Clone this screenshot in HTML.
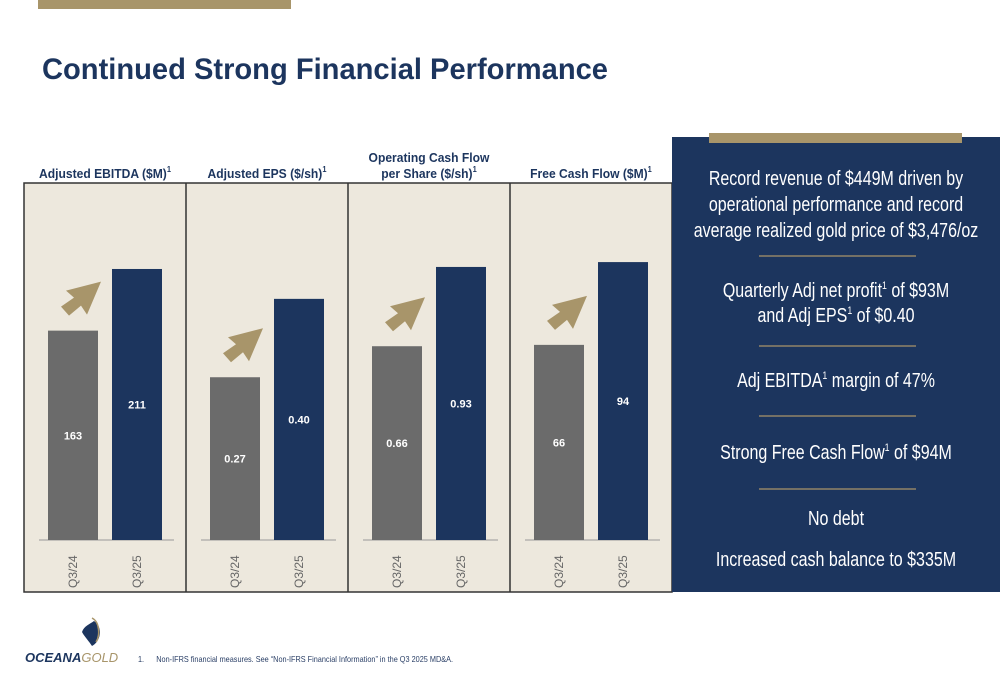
<!DOCTYPE html>
<html><head><meta charset="utf-8"><style>
html,body{margin:0;padding:0;background:#fff;}
svg{display:block;font-family:"Liberation Sans",Arial,sans-serif;}
.rt{font-family:"Liberation Sans Narrow","Liberation Sans",sans-serif;font-size:20px;fill:#fff;text-anchor:middle;}
</style></head><body>
<svg id="chart" width="1000" height="685" viewBox="0 0 1000 685" xmlns="http://www.w3.org/2000/svg">
<rect x="38" y="0" width="253" height="9" fill="#a8956a"/>
<text x="42" y="79" font-size="30" font-weight="bold" fill="#1c355e" textLength="566" lengthAdjust="spacingAndGlyphs">Continued Strong Financial Performance</text>
<rect x="24" y="183" width="648" height="409" fill="#ede8dd" stroke="#333" stroke-width="1.5"/>
<g id="charts"></g>
<rect x="672" y="137" width="328" height="455" fill="#1c355e"/>
<rect x="709" y="133" width="253" height="10" fill="#a8956a"/>
<g transform="translate(836,0) scale(0.8,1)">
<text class="rt" x="0" y="185">Record revenue of $449M driven by</text>
<text class="rt" x="0" y="211">operational performance and record</text>
<text class="rt" x="0" y="237">average realized gold price of $3,476/oz</text>
<text class="rt" x="0" y="297">Quarterly Adj net profit<tspan font-size="11" dy="-8">1</tspan><tspan dy="8"> of $93M</tspan></text>
<text class="rt" x="0" y="322">and Adj EPS<tspan font-size="11" dy="-8">1</tspan><tspan dy="8"> of $0.40</tspan></text>
<text class="rt" x="0" y="387">Adj EBITDA<tspan font-size="11" dy="-8">1</tspan><tspan dy="8"> margin of 47%</tspan></text>
<text class="rt" x="0" y="459">Strong Free Cash Flow<tspan font-size="11" dy="-8">1</tspan><tspan dy="8"> of $94M</tspan></text>
<text class="rt" x="0" y="525">No debt</text>
<text class="rt" x="0" y="566">Increased cash balance to $335M</text>
</g>
<line x1="759" y1="256" x2="916" y2="256" stroke="#a8956a" stroke-width="1.2"/>
<line x1="759" y1="346" x2="916" y2="346" stroke="#a8956a" stroke-width="1.2"/>
<line x1="759" y1="416" x2="916" y2="416" stroke="#a8956a" stroke-width="1.2"/>
<line x1="759" y1="489" x2="916" y2="489" stroke="#a8956a" stroke-width="1.2"/>
<g>
<path d="M94 621 C104 628 100 642 92 646 C88 640 84 636 82 632 C84 626 90 624 94 621 Z" fill="#1c355e"/>
<path d="M92 618 C100 622 100 636 96 642" stroke="#a8956a" stroke-width="1.5" fill="none"/>
<text x="25" y="662" font-size="13" font-weight="bold" font-style="italic" fill="#1c355e">OCEANA<tspan fill="#a8956a" font-weight="normal">GOLD</tspan></text>
</g>
<text x="138" y="662" font-size="8.5" fill="#2a3f66" textLength="315" lengthAdjust="spacingAndGlyphs">1.&#160;&#160;&#160;&#160;&#160;&#160;Non-IFRS financial measures. See “Non-IFRS Financial Information” in the Q3 2025 MD&amp;A.</text>
</svg>
<script>
const titles1 = ["Adjusted EBITDA ($M)", "Adjusted EPS ($/sh)", "Operating Cash Flow", "Free Cash Flow ($M)"];
const titles2 = ["", "", "per Share ($/sh)", ""];
const categories = ["Q3/24", "Q3/25"];
const priorValues = [163, 0.27, 0.66, 66];
const currentValues = [211, 0.40, 0.93, 94];
const priorLabels = ["163", "0.27", "0.66", "66"];
const currentLabels = ["211", "0.40", "0.93", "94"];
const axisMax = [264.7, 0.564, 1.158, 115];

const NS = "http://www.w3.org/2000/svg";
const g = document.getElementById("charts");
function mk(tag, attrs, parent) {
  const e = document.createElementNS(NS, tag);
  for (const k in attrs) e.setAttribute(k, attrs[k]);
  (parent || g).appendChild(e);
  return e;
}
const panelX = [24, 186, 348, 510];
const panelW = 162;
const baseY = 540, plotH = 340;
function yScale(i, v) { return baseY - v / axisMax[i] * plotH; }

for (let i = 0; i < 4; i++) {
  const px = panelX[i];
  const cx = px + panelW / 2;
  if (i > 0) {
    const d = mk("line", {x1: px, y1: 183, x2: px, y2: 592, stroke: "#333", "stroke-width": 1.5});
    
    
  }
  const t = mk("text", {x: cx, y: titles2[i] ? 162 : 178, "font-size": 13, "font-weight": "bold", fill: "#1c355e", "text-anchor": "middle", transform: `translate(${cx * 0.07},0) scale(0.93,1)`});
  t.textContent = titles1[i];
  if (!titles2[i]) { const s = mk("tspan", {"font-size": 8, dy: -6}, t); s.textContent = "1"; }
  
  
  if (titles2[i]) {
    const t2 = mk("text", {x: cx, y: 178, "font-size": 13, "font-weight": "bold", fill: "#1c355e", "text-anchor": "middle", transform: `translate(${cx * 0.07},0) scale(0.93,1)`});
    t2.textContent = titles2[i];
    const s = mk("tspan", {"font-size": 8, dy: -6}, t2); s.textContent = "1";
    
    
  }
  const bl = mk("line", {x1: px + 15, y1: baseY, x2: px + 150, y2: baseY, stroke: "#999", "stroke-width": 1});
  
  
  const vals = [priorValues[i], currentValues[i]];
  const labs = [priorLabels[i], currentLabels[i]];
  const colors = ["#6b6b6b", "#1c355e"];
  const barX = [px + 24, px + 88];
  const bw = 50;
  for (let j = 0; j < 2; j++) {
    const top = yScale(i, vals[j]);
    const r = mk("rect", {x: barX[j], y: top, width: bw, height: baseY - top, fill: colors[j]});
    
    
    const vl = mk("text", {x: barX[j] + bw / 2, y: (top + baseY) / 2 + 4, "font-size": 11, "font-weight": "bold", fill: "#fff", "text-anchor": "middle"});
    vl.textContent = labs[j];
    
    
    const xl = mk("text", {transform: `translate(${barX[j] + bw / 2 + 4},${588}) rotate(-90)`, "font-size": 12, fill: "#666"});
    xl.textContent = categories[j];
    
    
  }
  const at = yScale(i, priorValues[i]) - 15;
  const ax = barX[0] + 13;
  const pts = [[40,-34],[5,-25],[13,-18],[0,-9],[8,0],[20,-10],[26,-1]]
    .map(p => (ax + p[0]) + "," + (at + p[1])).join(" ");
  const a = mk("polygon", {points: pts, fill: "#a8956a"});
  
  
}
</script>
</body></html>
